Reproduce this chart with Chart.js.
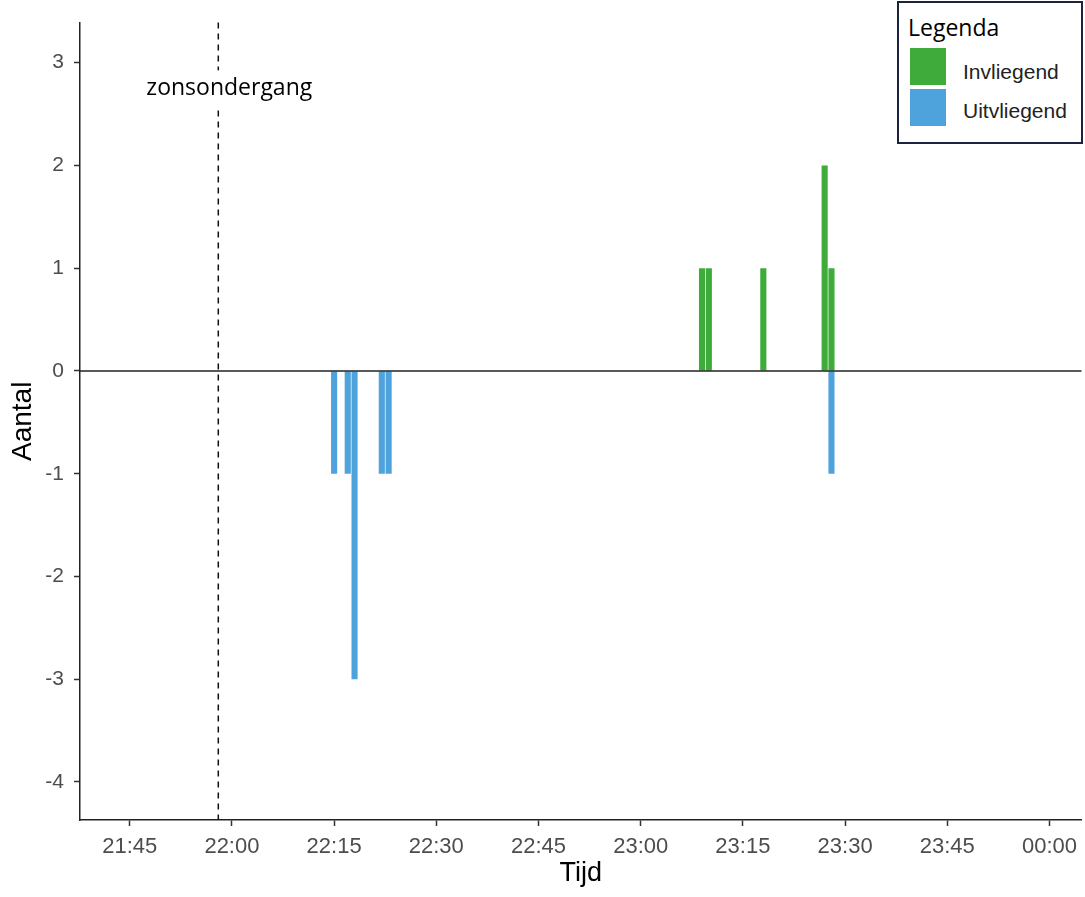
<!DOCTYPE html>
<html>
<head>
<meta charset="utf-8">
<script src="https://cdn.jsdelivr.net/npm/chart.js@4"></script>
<style>
  html, body { margin: 0; padding: 0; background: #fff; }
  #wrap { position: relative; width: 1085px; height: 897px; }
  #legend {
    position: absolute; left: 897px; top: 1px; width: 182px; height: 139px;
    border: 2px solid #1c2340; background: #fff; font-family: "Liberation Sans", Arial, sans-serif;
  }
  #legend .title { position: absolute; left: 9px; top: 8px; font: 23px "Open Sans", sans-serif; color: #000; }
  #legend .item { position: absolute; left: 11px; width: 36px; height: 37px; }
  #legend .lab { position: absolute; left: 64px; font-size: 21px; color: #222; }
</style>
</head>
<body>
<div id="wrap">
  <canvas id="myChart"></canvas>
  <div id="legend">
    <div class="title">Legenda</div>
    <div class="item" id="sw0" style="top:45px"></div>
    <div class="lab" id="lab0" style="top:57px"></div>
    <div class="item" id="sw1" style="top:86px"></div>
    <div class="lab" id="lab1" style="top:96px"></div>
  </div>
</div>
<script>
// data
const seriesNames = ["Invliegend", "Uitvliegend"];
const seriesColors = ["#3fab3a", "#4fa3dc"];
const inTimes = ["23:09", "23:10", "23:18", "23:27", "23:28"];
const inCounts = [1, 1, 1, 2, 1];
const outTimes = ["22:15", "22:17", "22:18", "22:22", "22:23", "23:28"];
const outCounts = [-1, -1, -3, -1, -1, -1];
const xTickLabels = ["21:45", "22:00", "22:15", "22:30", "22:45", "23:00", "23:15", "23:30", "23:45", "00:00"];
const yTickValues = [-4, -3, -2, -1, 0, 1, 2, 3];
const sunsetTime = "21:58";
const sunsetLabel = "zonsondergang";

//turn "hh:mm" into minutes, times after midnight go past 24h
function toMin(t) {
  let [h, m] = t.split(":").map(Number);
  if (h < 12) h += 24;
  return h * 60 + m;
}
function fmt(v) {
  let h = Math.floor(v / 60) % 24;
  let m = Math.round(v % 60);
  return String(h).padStart(2, "0") + ":" + String(m).padStart(2, "0");
}

const xTicks = xTickLabels.map(toMin);

// legend swatches
seriesNames.forEach((n, i) => {
  document.getElementById("sw" + i).style.background = seriesColors[i];
  document.getElementById("lab" + i).textContent = n;
});

//extra lines: zero line, sunset dashed line + label
const refLines = {
  id: "refLines",
  beforeDatasetsDraw(chart) {
    const { ctx, chartArea, scales } = chart;
    const x = scales.x.getPixelForValue(toMin(sunsetTime));
    ctx.save();
    ctx.strokeStyle = "#111";
    ctx.lineWidth = 1.5;
    ctx.setLineDash([6, 5]);
    ctx.beginPath();
    ctx.moveTo(x, chartArea.top);
    ctx.lineTo(x, chartArea.bottom);
    ctx.stroke();
    ctx.setLineDash([]);
    ctx.font = '23px "Open Sans", sans-serif';
    const w = ctx.measureText(sunsetLabel).width;
    const ty = scales.y.getPixelForValue(2.75);
    ctx.fillStyle = "#fff";
    ctx.fillRect(x + 11 - w / 2 - 3, ty - 18, w + 6, 36);
    ctx.fillStyle = "#000";
    ctx.textAlign = "center";
    ctx.textBaseline = "middle";
    ctx.fillText(sunsetLabel, x + 11, ty);
    ctx.restore();
  },
  afterDatasetsDraw(chart) {
    const { ctx, chartArea, scales } = chart;
    const y = scales.y.getPixelForValue(0);
    ctx.save();
    ctx.strokeStyle = "#222";
    ctx.lineWidth = 1.5;
    ctx.beginPath();
    ctx.moveTo(chartArea.left, y);
    ctx.lineTo(chartArea.right, y);
    ctx.stroke();
    ctx.restore();
  }
};

const ctx = document.getElementById("myChart").getContext("2d");
new Chart(ctx, {
  type: "bar",
  data: {
    datasets: [
      {
        label: seriesNames[0],
        data: inTimes.map((t, i) => ({ x: toMin(t), y: inCounts[i] })),
        backgroundColor: seriesColors[0],
        grouped: false,
        barPercentage: 0.9,
        categoryPercentage: 1
      },
      {
        label: seriesNames[1],
        data: outTimes.map((t, i) => ({ x: toMin(t), y: outCounts[i] })),
        backgroundColor: seriesColors[1],
        grouped: false,
        barPercentage: 0.9,
        categoryPercentage: 1
      }
    ]
  },
  options: {
    responsive: true,
    maintainAspectRatio: false,
    animation: false,
    layout: { padding: { top: 20, right: 0, left: 0, bottom: 0 } },
    plugins: { legend: { display: false }, tooltip: { enabled: false } },
    scales: {
      x: {
        type: "linear",
        min: 1297.7,
        max: 1444.7,
        offset: false,
        afterBuildTicks: (s) => { s.ticks = xTicks.map((v) => ({ value: v })); },
        afterFit: (s) => { s.height = 77; },
        grid: { display: true, offset: false, drawOnChartArea: false, drawTicks: true, tickLength: 6, tickColor: "#333", tickWidth: 1.5 },
        border: { display: true, color: "#222", width: 1.5 },
        ticks: {
          padding: 8,
          color: "#4d4d4d",
          font: { family: '"Liberation Sans", Arial', size: 22 },
          maxRotation: 0,
          autoSkip: false,
          callback: (v) => fmt(v)
        },
        title: {
          display: true,
          text: "Tijd",
          color: "#000",
          font: { family: '"Liberation Sans", Arial', size: 27 },
          padding: { top: 0, bottom: 7 }
        }
      },
      y: {
        min: -4.37,
        max: 3.39,
        afterBuildTicks: (s) => { s.ticks = yTickValues.map((v) => ({ value: v })); },
        afterFit: (s) => { s.width = 80; },
        grid: { display: true, offset: false, drawOnChartArea: false, drawTicks: true, tickLength: 6, tickColor: "#333", tickWidth: 1.5 },
        border: { display: true, color: "#222", width: 1.5 },
        ticks: {
          padding: 10,
          color: "#4d4d4d",
          font: { family: '"Liberation Sans", Arial', size: 21 }
        },
        title: {
          display: true,
          text: "Aantal",
          color: "#000",
          font: { family: '"Liberation Sans", Arial', size: 28 },
          padding: { top: 6, bottom: 0 }
        }
      }
    }
  },
  plugins: [refLines]
});
</script>
</body>
</html>
